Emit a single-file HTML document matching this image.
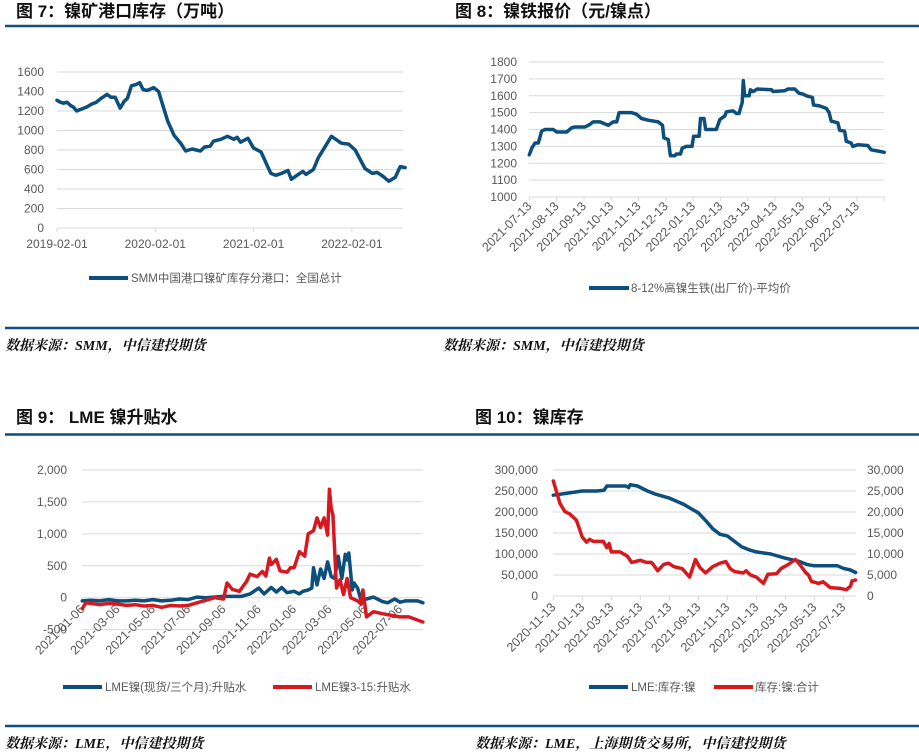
<!DOCTYPE html>
<html><head><meta charset="utf-8">
<style>
html,body{margin:0;padding:0;background:#fff;}
svg{display:block;}
.t{font-family:"Liberation Sans","Noto Sans CJK SC",sans-serif;font-weight:bold;font-size:17px;fill:#111;}
.src{font-family:"Liberation Serif","Noto Serif CJK SC",serif;font-weight:bold;font-style:italic;font-size:14px;fill:#111;}
.ax{font-family:"Liberation Sans","Noto Sans CJK SC",sans-serif;font-size:12px;fill:#595959;}
.axr{font-family:"Liberation Sans","Noto Sans CJK SC",sans-serif;font-size:12.5px;fill:#595959;}
.lg{font-family:"Liberation Sans","Noto Sans CJK SC",sans-serif;font-size:11.5px;fill:#595959;}
</style></head>
<body>
<svg id="s" width="919" height="754" viewBox="0 0 919 754" xmlns="http://www.w3.org/2000/svg">
<text class="t" x="16" y="17">图 7：镍矿港口库存（万吨）</text>
<text class="t" x="455" y="17">图 8：镍铁报价（元/镍点）</text>
<line x1="5" y1="26" x2="919" y2="26" stroke="#0d4f7e" stroke-width="2.5"/>
<line x1="5" y1="328" x2="919" y2="328" stroke="#0d4f7e" stroke-width="2.5"/>
<text class="src" x="5" y="350">数据来源：SMM，中信建投期货</text>
<text class="src" x="443" y="350">数据来源：SMM，中信建投期货</text>
<text class="t" x="16" y="423">图 9：  LME 镍升贴水</text>
<text class="t" x="475" y="423">图 10：镍库存</text>
<line x1="5" y1="434.5" x2="919" y2="434.5" stroke="#0d4f7e" stroke-width="2.5"/>
<line x1="5" y1="726" x2="919" y2="726" stroke="#0d4f7e" stroke-width="2.5"/>
<text class="src" x="5" y="748">数据来源：LME，中信建投期货</text>
<text class="src" x="475" y="748">数据来源：LME，上海期货交易所，中信建投期货</text>
<g id="g7"></g>
<g id="g8"></g>
<g id="g9"></g>
<g id="g10"></g>
</svg>
<script>
// ---- Chart 7 data (months since 2019-02-01) ----
const c7Months=[0,0.4,0.8,1.2,1.6,2.0,2.4,3.0,3.6,4.2,4.8,5.4,6.1,6.6,7.1,7.7,8.2,8.6,9.1,9.6,10.1,10.5,11,11.8,12.4,13.5,14.3,15.1,15.7,16.5,17.5,18.0,18.7,19.1,20.0,20.8,21.6,22,22.4,23.3,24,24.9,26.1,26.7,27.4,28.2,28.6,29.3,30,30.4,31.3,31.9,33.5,34.7,35.6,36.4,37.6,38.5,39.1,39.8,40.5,41.3,41.9,42.5];
const c7Values=[1310,1290,1280,1290,1260,1240,1200,1220,1240,1270,1290,1330,1370,1340,1340,1230,1300,1330,1460,1470,1490,1420,1410,1440,1400,1100,950,870,790,810,790,830,840,890,910,940,910,930,880,920,820,780,560,540,560,590,500,540,580,550,600,720,940,870,860,800,610,560,570,530,480,520,630,620];
const c7YTicks=[0,200,400,600,800,1000,1200,1400,1600];
const c7XLabels=["2019-02-01","2020-02-01","2021-02-01","2022-02-01"];
const c7XLabelMonths=[0,12,24,36];
// ---- Chart 8 data (months since 2021-07-13) ----
const c8Months=[0,.09,.21,.33,.45,.57,.88,1.0,1.37,1.55,1.67,2.04,2.22,2.34,2.59,2.89,3.07,3.2,3.29,3.74,3.93,4.11,4.35,4.72,4.88,4.93,5.09,5.17,5.33,5.39,5.54,5.6,5.76,5.96,6.02,6.22,6.27,6.4,6.46,6.85,6.98,7.16,7.22,7.46,7.59,7.68,7.8,7.84,7.89,8.05,8.1,8.2,8.35,8.87,8.93,9.35,9.48,9.72,9.88,10.02,10.15,10.37,10.41,10.63,10.88,10.98,11.06,11.3,11.37,11.55,11.61,11.79,11.85,12.04,12.4,12.52,12.83,13.0];
const c8Values=[1250,1290,1320,1320,1390,1400,1400,1385,1385,1410,1415,1415,1430,1445,1445,1425,1445,1445,1500,1500,1490,1465,1455,1445,1425,1350,1340,1245,1245,1255,1255,1290,1300,1300,1360,1360,1465,1465,1400,1400,1460,1480,1505,1510,1495,1495,1560,1690,1600,1600,1635,1625,1640,1635,1625,1630,1640,1640,1615,1610,1600,1590,1545,1540,1525,1500,1450,1440,1395,1390,1330,1320,1300,1310,1305,1280,1270,1265];
const c8YTicks=[1000,1100,1200,1300,1400,1500,1600,1700,1800];
const c8XLabels=["2021-07-13","2021-08-13","2021-09-13","2021-10-13","2021-11-13","2021-12-13","2022-01-13","2022-02-13","2022-03-13","2022-04-13","2022-05-13","2022-06-13","2022-07-13"];
// ---- Chart 9 data (months since 2021-01-06) ----
const c9BlueMonths=[0,0.5,1,1.5,2,2.5,3,3.5,4,4.5,5,5.5,6,6.5,7,8,9,9.5,10,10.3,10.7,11,11.3,11.6,12,12.3,12.5,12.8,13,13.1,13.3,13.5,13.7,13.9,14.1,14.3,14.5,14.7,14.9,15.0,15.1,15.3,15.4,15.6,15.8,16.1,16.5,17,17.3,17.7,18,18.3,18.6,19,19.3];
const c9BlueValues=[-50,-40,-50,-30,-50,-50,-40,-50,-30,-50,-40,-20,-30,10,0,20,20,60,150,60,160,90,160,80,100,60,100,120,150,470,200,450,300,560,330,300,650,300,680,590,700,120,230,150,-50,-20,10,-60,-80,-20,-70,-50,-50,-50,-80];
const c9RedMonths=[0,0.2,1,1.5,2,2.5,3,3.5,4,4.5,5,5.5,6,6.5,7,7.5,8,8.2,8.5,8.9,9.3,9.5,9.9,10.2,10.4,10.6,10.7,11,11.2,11.6,11.8,12,12.3,12.6,12.8,13.1,13.3,13.5,13.7,13.9,14.0,14.1,14.2,14.4,14.6,14.8,15.0,15.2,15.6,15.8,15.9,16.1,16.5,17,17.6,18,18.5,19.3];
const c9RedValues=[-170,-80,-110,-90,-100,-120,-110,-130,-120,-150,-120,-130,-120,-80,-40,0,-20,230,130,100,250,370,330,410,340,620,520,600,420,400,470,470,720,650,1000,1050,1250,1100,1250,980,1700,1400,1300,150,280,50,300,0,-50,-100,120,-300,-220,-250,-280,-300,-300,-380];
const c9YTicks=[-500,0,500,1000,1500,2000];
const c9YLabels=["-500","0","500","1,000","1,500","2,000"];
const c9XLabels=["2021-01-06","2021-03-06","2021-05-06","2021-07-06","2021-09-06","2021-11-06","2022-01-06","2022-03-06","2022-05-06","2022-07-06"];
// ---- Chart 10 data (months since 2020-11-13) ----
const c10BlueMonths=[0,1,2,3,3.5,3.7,5,5.2,5.3,5.8,6.5,7,8,9,9.5,10,10.5,11,11.5,12,12.5,13,13.5,14,15,16,17,17.5,18,19,19.6,20,20.5,20.85];
const c10BlueValues=[240000,245000,250000,250000,252000,262000,262000,258000,265000,262000,250000,243000,233000,218000,208000,198000,180000,160000,147000,143000,130000,117000,110000,105000,100000,90000,82000,75000,72000,72000,72000,66000,62000,56000];
const c10RedMonths=[0,0.46,0.8,1.15,1.6,2.0,2.3,2.5,2.75,3.45,3.7,3.85,4.0,4.6,5.1,5.4,6.0,6.4,6.75,6.9,7.2,7.6,7.95,8.3,8.9,9.4,9.8,10.1,10.5,11,11.5,11.9,12.2,12.5,13.1,13.3,13.6,14,14.5,14.8,15.4,15.7,16.2,16.7,17,17.4,17.6,17.8,18.3,18.6,19.1,19.8,20.2,20.5,20.6,20.85];
const c10RedValues=[27400,22000,20100,19500,18000,14000,12800,13500,13000,13000,11500,12500,10500,10500,9500,8000,8500,8000,8000,7500,6000,7500,7800,7000,6500,4500,8700,6800,5500,7000,7800,8200,6500,5800,5500,6000,5000,4500,3000,5200,5300,6500,7500,8700,7500,5600,5000,3500,3000,3400,2000,1800,1500,2300,3600,3800];
const c10LTicks=[0,50000,100000,150000,200000,250000,300000];
const c10RTicks=[0,5000,10000,15000,20000,25000,30000];
const c10XLabels=["2020-11-13","2021-01-13","2021-03-13","2021-05-13","2021-07-13","2021-09-13","2021-11-13","2022-01-13","2022-03-13","2022-05-13","2022-07-13"];

const NS="http://www.w3.org/2000/svg";
const BLUE="#0c4f7d", RED="#d7191f", GRID="#d9d9d9";
function mk(parent,tag,attrs){const e=document.createElementNS(NS,tag);for(const k in attrs)e.setAttribute(k,attrs[k]);parent.appendChild(e);return e;}
function txt(parent,x,y,s,cls,anchor,rot){const e=mk(parent,'text',{x:x,y:y,'class':cls,'text-anchor':anchor});if(rot)e.setAttribute('transform','rotate('+rot+' '+x+' '+y+')');e.textContent=s;return e;}
function path(parent,xs,ys,xf,yf,color){let d='';for(let i=0;i<xs.length;i++){d+=(i?'L':'M')+xf(xs[i]).toFixed(1)+' '+yf(ys[i]).toFixed(1);}return mk(parent,'path',{d:d,fill:'none',stroke:color,'stroke-width':3.5,'stroke-linejoin':'round','stroke-linecap':'round'});}

// Chart 7
(function(){
const g=document.getElementById('g7');
const x=m=>57+m*(98.3/12), y=v=>228-v*(156/1600);
c7YTicks.forEach(v=>{const l=mk(g,'line',{x1:57,x2:403,y1:y(v),y2:y(v),stroke:GRID});


const t=txt(g,44,y(v)+4,String(v),'ax','end');

});
c7XLabels.forEach((s,i)=>{const t=txt(g,x(c7XLabelMonths[i]),248,s,'ax','middle');


const k=mk(g,'line',{x1:x(c7XLabelMonths[i]),x2:x(c7XLabelMonths[i]),y1:228,y2:232,stroke:GRID});

});
const p=path(g,c7Months,c7Values,x,y,BLUE);


const ll=mk(g,'line',{x1:89,x2:128,y1:278,y2:278,stroke:BLUE,'stroke-width':4});


const lt=txt(g,131,282,'SMM中国港口镍矿库存分港口：全国总计','lg','start');


})();

// Chart 8
(function(){
const g=document.getElementById('g8');
const x=m=>529.3+m*27.3, y=v=>197-(v-1000)*(135/800);
c8YTicks.forEach(v=>{const l=mk(g,'line',{x1:529,x2:884,y1:y(v),y2:y(v),stroke:GRID});


const t=txt(g,517,y(v)+4,String(v),'ax','end');

});
for(let i=0;i<=13;i++){const k=mk(g,'line',{x1:x(i),x2:x(i),y1:197,y2:201,stroke:GRID});

}
c8XLabels.forEach((s,i)=>{const t=txt(g,x(i)+3,207,s,'axr','end',-45);

});
const p=path(g,c8Months,c8Values,x,y,BLUE);


const ll=mk(g,'line',{x1:589,x2:629,y1:288,y2:288,stroke:BLUE,'stroke-width':4});


const lt=txt(g,631,292,'8-12%高镍生铁(出厂价)-平均价','lg','start');


})();

// Chart 9
(function(){
const g=document.getElementById('g9');
const x=m=>82.3+m*17.65, y=v=>597.7-v*(127.7/2000);
c9YTicks.forEach((v,i)=>{const l=mk(g,'line',{x1:82,x2:423,y1:y(v),y2:y(v),stroke:GRID});


const t=txt(g,67,y(v)+4,c9YLabels[i],'ax','end');

});
c9XLabels.forEach((s,i)=>{const k=mk(g,'line',{x1:x(i*2),x2:x(i*2),y1:597.7,y2:601.7,stroke:GRID});


const t=txt(g,x(i*2)+3,610,s,'axr','end',-45);

});
const pb=path(g,c9BlueMonths,c9BlueValues,x,y,BLUE);


const pr=path(g,c9RedMonths,c9RedValues,x,y,RED);


const l1=mk(g,'line',{x1:63,x2:102,y1:687,y2:687,stroke:BLUE,'stroke-width':4});


const t1=txt(g,105,691,'LME镍(现货/三个月):升贴水','lg','start');


const l2=mk(g,'line',{x1:273,x2:312,y1:687,y2:687,stroke:RED,'stroke-width':4});


const t2=txt(g,315,691,'LME镍3-15:升贴水','lg','start');


})();

// Chart 10
(function(){
const g=document.getElementById('g10');
const x=m=>553.3+m*14.5, yl=v=>596-v*(126/300000), yr=v=>596-v*(126/30000);
c10LTicks.forEach((v,i)=>{const l=mk(g,'line',{x1:553,x2:856,y1:yl(v),y2:yl(v),stroke:GRID});


const t=txt(g,538,yl(v)+4,v.toLocaleString('en-US'),'ax','end');


const r=txt(g,867,yr(c10RTicks[i])+4,c10RTicks[i].toLocaleString('en-US'),'ax','start');

});
c10XLabels.forEach((s,i)=>{const k=mk(g,'line',{x1:x(i*2),x2:x(i*2),y1:596,y2:600,stroke:GRID});


const t=txt(g,x(i*2)+3,608,s,'axr','end',-45);

});
const pb=path(g,c10BlueMonths,c10BlueValues,x,yl,BLUE);


const pr=path(g,c10RedMonths,c10RedValues,x,yr,RED);


const l1=mk(g,'line',{x1:589,x2:628,y1:687,y2:687,stroke:BLUE,'stroke-width':4});


const t1=txt(g,631,691,'LME:库存:镍','lg','start');


const l2=mk(g,'line',{x1:714,x2:753,y1:687,y2:687,stroke:RED,'stroke-width':4});


const t2=txt(g,755,691,'库存:镍:合计','lg','start');


})();
</script>
</body></html>
